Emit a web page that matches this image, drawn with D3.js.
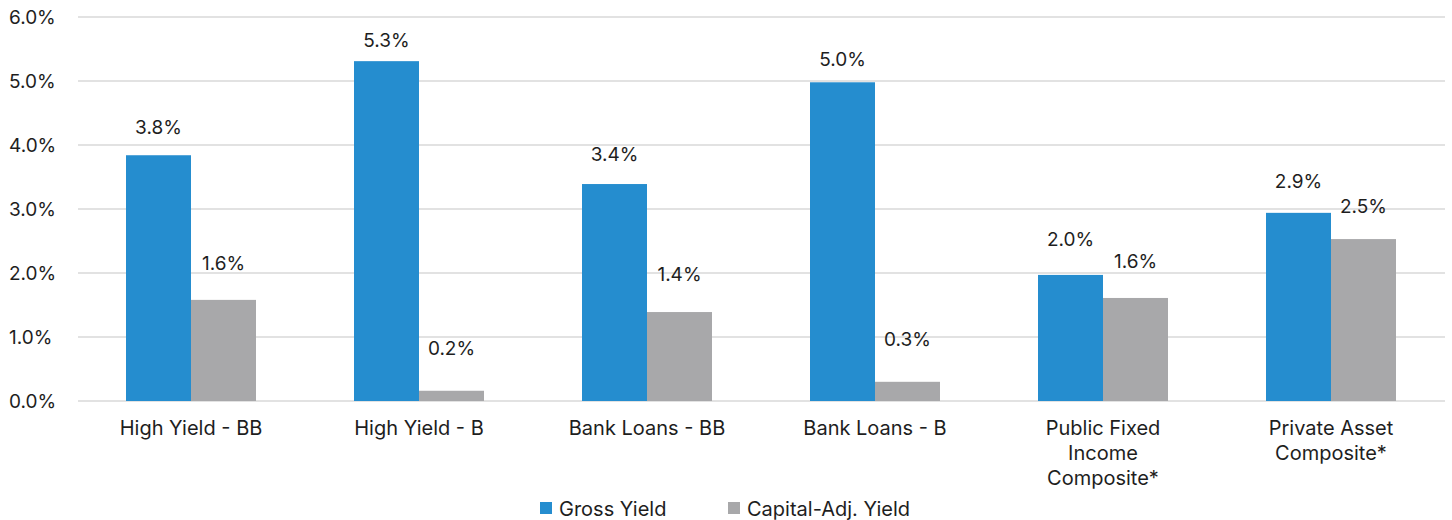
<!DOCTYPE html>
<html>
<head>
<meta charset="utf-8">
<script src="https://cdn.jsdelivr.net/npm/d3@7"></script>
<style>
  html, body { margin: 0; padding: 0; background: #fff; }
  svg { display: block; }
  text { font-family: Inter, "Noto Sans", sans-serif; fill: #1e1e1e; }
</style>
</head>
<body>
<svg id="chart" width="1452" height="520"></svg>
<script>
const categories = [
  ["High Yield - BB"],
  ["High Yield - B"],
  ["Bank Loans - BB"],
  ["Bank Loans - B"],
  ["Public Fixed", "Income", "Composite*"],
  ["Private Asset", "Composite*"]
];
const seriesNames = ["Gross Yield", "Capital-Adj. Yield"];
const grossYield = [3.84, 5.31, 3.39, 4.98, 1.97, 2.94];
const capitalAdjYield = [1.58, 0.16, 1.39, 0.30, 1.61, 2.53];
const yTicks = [0, 1, 2, 3, 4, 5, 6];
const colors = ["#258dcf", "#a8a8aa"];

const svg = d3.select("#chart");
const catKeys = categories.map(c => c.join(" "));
const series = [grossYield, capitalAdjYield];

const x0 = d3.scaleBand().domain(catKeys).range([77, 1445]).padding(0);
const groupW = 130;
const x1 = d3.scaleBand().domain(seriesNames).range([0, groupW]).padding(0);
const y = d3.scaleLinear().domain([0, 6]).range([401, 17]);
const yLabel = d3.scaleLinear().domain([0, 6]).range([357.6, -1.2]);

// gridlines
svg.append("g").selectAll("line").data(yTicks).join("line")
  .attr("x1", 78).attr("x2", 1445)
  .attr("y1", d => y(d)).attr("y2", d => y(d))
  .attr("stroke", "#d9d9d9").attr("stroke-width", 1.5);

// y tick labels
svg.append("g").selectAll("text").data(yTicks).join("text")
  .attr("x", 9).attr("y", d => y(d))
  .attr("dominant-baseline", "central")
  .style("font-size", "19px")
  .text(d => d.toFixed(1) + "%");

// bars
const groups = svg.append("g").selectAll("g").data(catKeys).join("g")
  .attr("transform", d => `translate(${x0(d) + (x0.bandwidth() - groupW) / 2},0)`);

groups.selectAll("rect").data((d, i) => series.map((s, j) => ({ s: seriesNames[j], v: s[i], j })))
  .join("rect")
  .attr("x", d => x1(d.s))
  .attr("width", x1.bandwidth())
  .attr("y", d => y(d.v))
  .attr("height", d => y(0) - y(d.v))
  .attr("fill", d => colors[d.j]);

groups.selectAll("text.val").data((d, i) => series.map((s, j) => ({ s: seriesNames[j], v: s[i], j })))
  .join("text").attr("class", "val")
  .attr("x", d => x1(d.s) + x1.bandwidth() / 2)
  .attr("y", d => yLabel(d.v))
  .attr("text-anchor", "middle")
  .attr("dominant-baseline", "central")
  .style("font-size", "19px")
  .text(d => d.v.toFixed(1) + "%");

// category labels
categories.forEach((lines, i) => {
  const cx = x0(catKeys[i]) + x0.bandwidth() / 2;
  const t = svg.append("text").attr("text-anchor", "middle").style("font-size", "20px");
  lines.forEach((ln, k) => {
    t.append("tspan").attr("x", cx).attr("y", 428 + k * 25)
      .attr("dominant-baseline", "central").text(ln);
  });
});

// legend
const legendX = [540, 728];
const lg = svg.append("g").selectAll("g").data(seriesNames).join("g")
  .attr("transform", (d, i) => `translate(${legendX[i]},502)`);
lg.append("rect").attr("width", 12).attr("height", 12).attr("fill", (d, i) => colors[i]);
lg.append("text").attr("x", 19).attr("y", 6.5).attr("dominant-baseline", "central")
  .style("font-size", "20px").text(d => d);
</script>
</body>
</html>
